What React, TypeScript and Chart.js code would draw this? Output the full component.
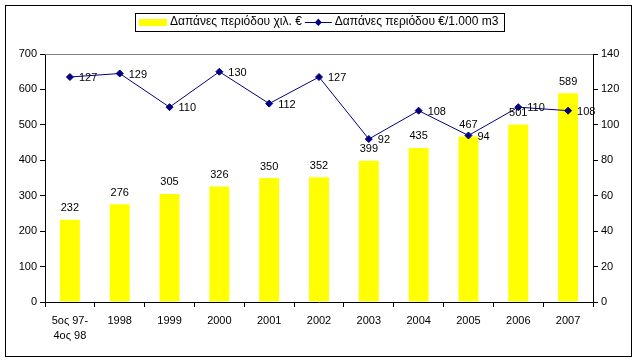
import React, { useEffect, useRef } from "react";
import { Chart, registerables } from "chart.js";

Chart.register(...registerables);

const categories: (string | string[])[] = [
  ["5ος 97-", "4ος 98"],
  "1998", "1999", "2000", "2001", "2002", "2003", "2004", "2005", "2006", "2007",
];
const spendThousands = [232, 276, 305, 326, 350, 352, 399, 435, 467, 501, 589];
const spendPer1000m3 = [127, 129, 110, 130, 112, 127, 92, 108, 94, 110, 108];
const leftTicks = { min: 0, max: 700, step: 100 };
const rightTicks = { min: 0, max: 140, step: 20 };
const barLabel = "Δαπάνες περιόδου χιλ. €";
const lineLabel = "Δαπάνες περιόδου €/1.000 m3";

const FONT_FAMILY = '"Liberation Sans", Arial, sans-serif';
const FONT = `11px ${FONT_FAMILY}`;
const LEGEND_FONT = `12px ${FONT_FAMILY}`;
const NAVY = "#000080";
const YELLOW = "#FFFF00";

export default function App() {
  const ref = useRef<HTMLCanvasElement | null>(null);

  useEffect(() => {
    document.body.style.margin = "0";
    const canvas = ref.current!;
    const decor = {
      id: "decor",
      afterDatasetsDraw(chart: any) {
        const ctx = chart.ctx as CanvasRenderingContext2D;
        const area = chart.chartArea;
        ctx.save();
        ctx.strokeStyle = "#808080";
        ctx.lineWidth = 1;
        ctx.beginPath();
        ctx.moveTo(area.left, Math.round(area.top) + 0.5);
        ctx.lineTo(area.right, Math.round(area.top) + 0.5);
        ctx.stroke();

        ctx.font = FONT;
        ctx.fillStyle = "#000";
        const barMeta = chart.getDatasetMeta(1);
        barMeta.data.forEach((el: any, i: number) => {
          ctx.textAlign = "center";
          ctx.textBaseline = "bottom";
          ctx.fillText(String(spendThousands[i]), el.x, el.y - 6);
        });
        const lineMeta = chart.getDatasetMeta(0);
        lineMeta.data.forEach((el: any, i: number) => {
          ctx.textAlign = "left";
          ctx.textBaseline = "middle";
          ctx.fillText(String(spendPer1000m3[i]), el.x + 9, el.y + 1);
        });
        ctx.restore();
      },
      afterDraw(chart: any) {
        const ctx = chart.ctx as CanvasRenderingContext2D;
        ctx.save();
        ctx.strokeStyle = "#000";
        ctx.lineWidth = 1;
        ctx.strokeRect(5.5, 5.5, 626, 351);
        ctx.font = LEGEND_FONT;
        const cy = 22;
        const swX = 139;
        ctx.fillStyle = YELLOW;
        ctx.fillRect(swX, cy - 3, 28, 7);
        ctx.fillStyle = "#000";
        ctx.textAlign = "left";
        ctx.textBaseline = "middle";
        const t1x = swX + 31;
        ctx.fillText(barLabel, t1x, cy);
        const w1 = ctx.measureText(barLabel).width;
        const lx = t1x + w1 + 3;
        ctx.strokeStyle = NAVY;
        ctx.beginPath();
        ctx.moveTo(lx, cy + 0.5);
        ctx.lineTo(lx + 27, cy + 0.5);
        ctx.stroke();
        ctx.fillStyle = NAVY;
        ctx.beginPath();
        ctx.moveTo(lx + 13.5, cy - 3.5);
        ctx.lineTo(lx + 17, cy + 0.5);
        ctx.lineTo(lx + 13.5, cy + 4);
        ctx.lineTo(lx + 10, cy + 0.5);
        ctx.closePath();
        ctx.fill();
        ctx.fillStyle = "#000";
        const t2x = lx + 30;
        ctx.fillText(lineLabel, t2x, cy);
        const w2 = ctx.measureText(lineLabel).width;
        ctx.strokeStyle = "#000";
        ctx.strokeRect(135.5, 13.5, Math.round(t2x + w2 + 6 - 135), 18);
        ctx.restore();
      },
    };

    const chart = new Chart(canvas, {
      type: "bar",
      data: {
        labels: categories as any,
        datasets: [
          {
            type: "line",
            label: lineLabel,
            data: spendPer1000m3,
            yAxisID: "y1",
            borderColor: NAVY,
            backgroundColor: NAVY,
            borderWidth: 1,
            pointStyle: "rectRot",
            pointRadius: 3.5,
            pointBackgroundColor: NAVY,
            pointBorderColor: NAVY,
            tension: 0,
            order: 0,
          } as any,
          {
            type: "bar",
            label: barLabel,
            data: spendThousands,
            yAxisID: "y",
            backgroundColor: YELLOW,
            borderWidth: 0,
            barPercentage: 0.4,
            categoryPercentage: 1,
            order: 1,
          },
        ],
      },
      options: {
        responsive: false,
        animation: false,
        events: [],
        layout: { padding: { top: 54, left: 0, right: 0, bottom: 0 } },
        plugins: { legend: { display: false }, tooltip: { enabled: false } },
        scales: {
          x: {
            offset: true,
            grid: { drawOnChartArea: false, offset: true, tickLength: 5, color: "#000", tickColor: "#000" },
            border: { color: "#000", width: 1 },
            ticks: { color: "#000", font: { family: FONT_FAMILY, size: 11, lineHeight: 1.4 }, padding: 6, maxRotation: 0, autoSkip: false },
            afterFit(scale: any) { scale.height = 62; },
          },
          y: {
            position: "left",
            min: leftTicks.min,
            max: leftTicks.max,
            grid: { drawOnChartArea: false, tickLength: 5, color: "#000", tickColor: "#000" },
            border: { color: "#000", width: 1 },
            ticks: { stepSize: leftTicks.step, color: "#000", font: { family: FONT_FAMILY, size: 11 }, padding: 3 },
            afterFit(scale: any) { scale.width = 45; },
          },
          y1: {
            position: "right",
            min: rightTicks.min,
            max: rightTicks.max,
            grid: { drawOnChartArea: false, tickLength: 5, color: "#000", tickColor: "#000" },
            border: { color: "#000", width: 1 },
            ticks: { stepSize: rightTicks.step, color: "#000", font: { family: FONT_FAMILY, size: 11 }, padding: 3 },
            afterFit(scale: any) { scale.width = 46; },
          },
        },
      } as any,
      plugins: [decor],
    });
    return () => chart.destroy();
  }, []);

  return (
    <div style={{ width: 639, height: 364, background: "#fff" }}>
      <canvas ref={ref} width={639} height={364} style={{ display: "block" }} />
    </div>
  );
}
